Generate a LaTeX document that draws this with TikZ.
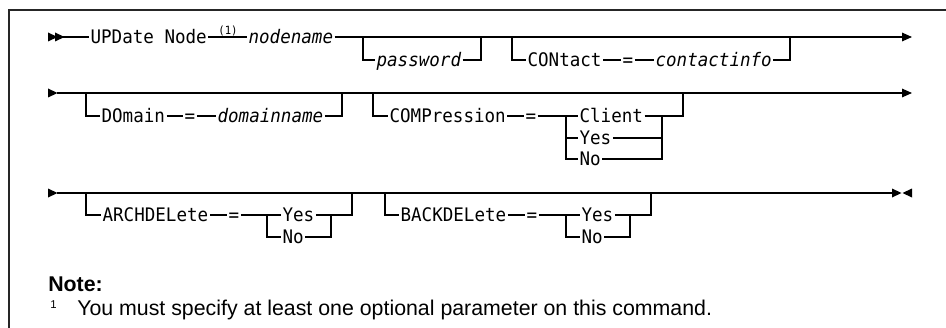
\documentclass[tikz,border=0pt]{standalone}
\usepackage{fontspec}
\setmainfont{Liberation Sans}
\newfontfamily\synfam[FakeStretch=0.94]{DejaVu Sans Mono}
\usepackage{tikz}
\usetikzlibrary{
  arrows.meta,%
  positioning
}
\tikzset{>={Triangle[length=7.5pt, width=6.5pt]}}
\newcommand{\synfont}{\synfam\fontsize{14}{16}\selectfont}
\newcommand{\synital}{\synfam\itshape\fontsize{14}{16}\selectfont}
% filled rail ends
\newcommand{\rtip}[2]{\fill (#1,#2) ++(0,-4.5) -- ++(9.5,4.5) -- ++(-9.5,4.5) -- cycle;}
\newcommand{\ltip}[2]{\fill (#1,#2) ++(0,-4.5) -- ++(-9.5,4.5) -- ++(9.5,4.5) -- cycle;}
\tikzset{
  kw/.style={font=\synfont, anchor=west, inner xsep=1pt, inner ysep=0pt,
    text height=10.2pt, text depth=0pt},
  var/.style={kw, font=\synital},
  rail/.style={line width=0.8pt},
  frame/.style={line width=1pt, black!85}
}

\begin{document}
\begin{tikzpicture}[x=0.75pt, y=-0.75pt]
  \useasboundingbox (0,0) rectangle (946,328);
  \draw[frame] (9,328) -- (9,10) -- (946,10); %

  % first rail
  \rtip{48}{37} \rtip{55}{37}
  \coordinate (ra) at (63,37);
  \node[kw] (upd) at (89,37) {UPDate Node};
  \node[font=\synfam\fontsize{8.5}{9}\selectfont, inner sep=0pt] (fnref) at (228,31) {(1)};
  \node[var] (nodename) at (247,37) {nodename};
  \node[var] (password) at (375,60) {password};
  \node[kw] (contact) at (526,60) {CONtact};
  \node[kw] (eqa) at (621,60) {=};
  \node[var] (contactinfo) at (654,60) {contactinfo};
  \coordinate (pwin) at (363,37);
  \coordinate (pwout) at (481,37);
  \coordinate (ctin) at (512,37);
  \coordinate (ctout) at (790,37);
  \coordinate (ea) at (912,37);
  \draw[rail] (ra) -- (upd.west); %
  \draw[rail] (upd.east) -- (nodename.west); %
  \draw[rail, ->] (nodename.east) -- (ea); %
  \draw[rail] (pwin) |- (password.west); %
  \draw[rail] (password.east) -| (pwout); %
  \draw[rail] (ctin) |- (contact.west); %
  \draw[rail] (contact.east) -- (eqa.west); %
  \draw[rail] (eqa.east) -- (contactinfo.west); %
  \draw[rail] (contactinfo.east) -| (ctout); %

  % second rail
  \rtip{48}{93}
  \coordinate (rb) at (57,93);
  \coordinate (eb) at (912,93);
  \node[kw] (domain) at (100,116) {DOmain};
  \node[kw] (eqb) at (183,116) {=};
  \node[var] (domainname) at (216,116) {domainname};
  \node[kw] (compr) at (388,116) {COMPression};
  \node[kw] (eqc) at (524,116) {=};
  \node[kw] (client) at (578,116) {Client};
  \node[kw] (cyes) at (578,138) {Yes};
  \node[kw] (cno) at (578,159) {No};
  \coordinate (dmin) at (86,93);
  \coordinate (dmout) at (342,93);
  \coordinate (cpin) at (373,93);
  \coordinate (cpsplit) at (566,116);
  \coordinate (cpjoin) at (662,116);
  \coordinate (cpout) at (683,93);
  \draw[rail, ->] (rb) -- (eb); %
  \draw[rail] (dmin) |- (domain.west); %
  \draw[rail] (domain.east) -- (eqb.west); %
  \draw[rail] (eqb.east) -- (domainname.west); %
  \draw[rail] (domainname.east) -| (dmout); %
  \draw[rail] (cpin) |- (compr.west); %
  \draw[rail] (compr.east) -- (eqc.west); %
  \draw[rail] (eqc.east) -- (client.west); %
  \draw[rail] (cpsplit) |- (cyes.west); %
  \draw[rail] (cpsplit) |- (cno.west); %
  \draw[rail] (client.east) -| (cpout); %
  \draw[rail] (cyes.east) -| (cpjoin); %
  \draw[rail] (cno.east) -| (cpjoin); %

  % third rail
  \rtip{48}{193}
  \rtip{892}{193} \ltip{912}{193}
  \coordinate (rc) at (57,193);
  \coordinate (ec) at (892,193);
  \node[kw] (archdel) at (101,215) {ARCHDELete};
  \node[kw] (eqd) at (227,215) {=};
  \node[kw] (ayes) at (281,215) {Yes};
  \node[kw] (ano) at (281,237) {No};
  \node[kw] (backdel) at (399,215) {BACKDELete};
  \node[kw] (eqe) at (525,215) {=};
  \node[kw] (byes) at (580,215) {Yes};
  \node[kw] (bno) at (580,237) {No};
  \coordinate (arin) at (86,193);
  \coordinate (arsplit) at (267,215);
  \coordinate (arjoin) at (331,215);
  \coordinate (arout) at (352,193);
  \coordinate (bkin) at (385,193);
  \coordinate (bksplit) at (566,215);
  \coordinate (bkjoin) at (630,215);
  \coordinate (bkout) at (651,193);
  \draw[rail] (rc) -- (ec); %
  \draw[rail] (arin) |- (archdel.west); %
  \draw[rail] (archdel.east) -- (eqd.west); %
  \draw[rail] (eqd.east) -- (ayes.west); %
  \draw[rail] (arsplit) |- (ano.west); %
  \draw[rail] (ayes.east) -| (arout); %
  \draw[rail] (ano.east) -| (arjoin); %
  \draw[rail] (bkin) |- (backdel.west); %
  \draw[rail] (backdel.east) -- (eqe.west); %
  \draw[rail] (eqe.east) -- (byes.west); %
  \draw[rail] (bksplit) |- (bno.west); %
  \draw[rail] (byes.east) -| (bkout); %
  \draw[rail] (bno.east) -| (bkjoin); %

  % note
  \node[anchor=base west, inner sep=0pt, font=\bfseries\fontsize{16}{18}\selectfont] (note) at (48,291) {Note:};
  \node[anchor=base west, inner sep=0pt, font=\fontsize{8.5}{10}\selectfont] (fnmark) at (50,308) {1};
  \node[anchor=base west, inner sep=0pt, font=\fontsize{16}{18}\selectfont] (fntext) at (77,315) {You must specify at least one optional parameter on this command.};
\end{tikzpicture}
\end{document}
